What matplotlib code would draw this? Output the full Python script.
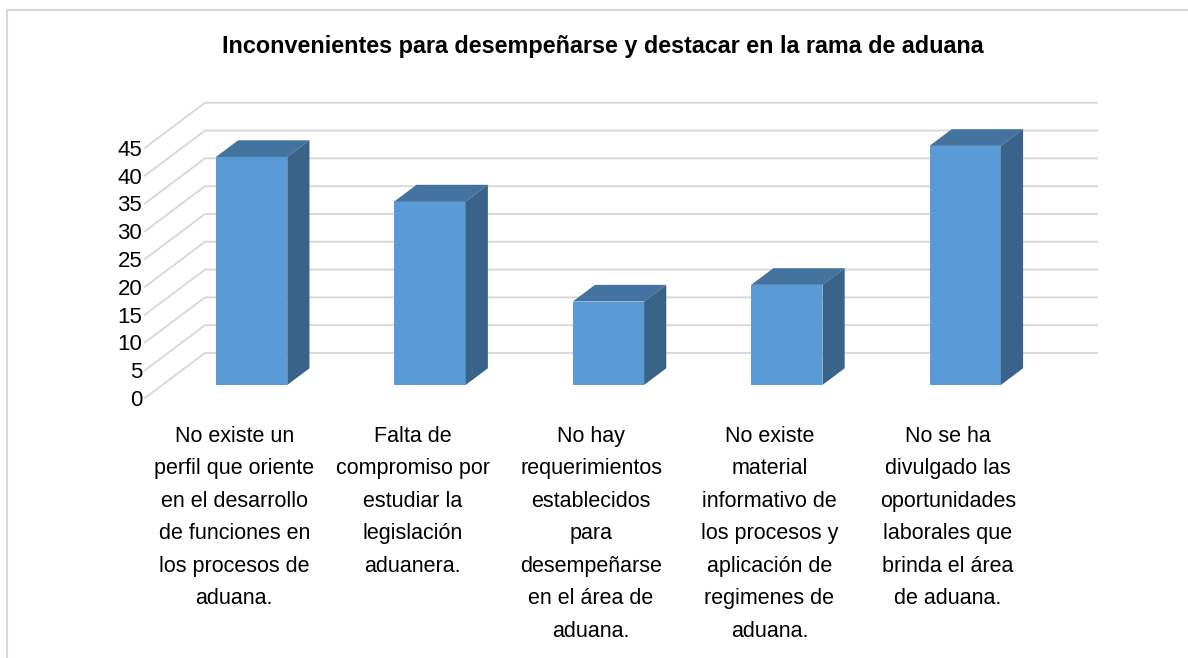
import matplotlib
matplotlib.use("Agg")
import matplotlib.pyplot as plt
from matplotlib.patches import Polygon, Rectangle

plt.rcParams['font.family'] = ['Liberation Sans', 'DejaVu Sans']

# data
title = "Inconvenientes para desempeñarse y destacar en la rama de aduana"
categories = [
    "No existe un\nperfil que oriente\nen el desarrollo\nde funciones en\nlos procesos de\naduana.",
    "Falta de\ncompromiso por\nestudiar la\nlegislación\naduanera.",
    "No hay\nrequerimientos\nestablecidos\npara\ndesempeñarse\nen el área de\naduana.",
    "No existe\nmaterial\ninformativo de\nlos procesos y\naplicación de\nregimenes de\naduana.",
    "No se ha\ndivulgado las\noportunidades\nlaborales que\nbrinda el área\nde aduana.",
]
values = [41, 33, 15, 18, 43]
yticks = list(range(0, 50, 5))

# colours
front_col = '#5b9bd5'
top_col = '#44739f'
side_col = '#3a6389'
grid_col = '#d9d9d9'

fig = plt.figure(figsize=(11.88, 6.58), dpi=100)
ax = fig.add_axes([145 / 1188, 260 / 658, 892 / 1188, 278 / 658])
ax.set_xlim(-0.5, 4.5)
ax.set_ylim(0, 50)

# oblique depth vector (full depth of the floor), in data units
DX = 60 / 178.4
DY = 8.1
f1, f2 = 0.29, 0.66   # bar front / back depth

# side wall + back wall gridlines
for v in yticks:
    ax.plot([-0.5, -0.5 + DX, 4.5 + DX], [v, v + DY, v + DY],
            color=grid_col, lw=1.4, zorder=1, clip_on=False)

# 3d columns
w = 0.4
ddx = (f2 - f1) * DX
ddy = (f2 - f1) * DY
for i, h in enumerate(values):
    xc = i + f1 * DX
    y0 = f1 * DY
    ax.bar(xc, h, width=w, bottom=y0, color=front_col, zorder=3, clip_on=False)
    x0, x1, y1 = xc - w / 2, xc + w / 2, y0 + h
    top = Polygon([(x0, y1), (x1, y1), (x1 + ddx, y1 + ddy), (x0 + ddx, y1 + ddy)],
                  closed=True, facecolor=top_col, edgecolor='none', zorder=3, clip_on=False)
    side = Polygon([(x1, y0), (x1 + ddx, y0 + ddy), (x1 + ddx, y1 + ddy), (x1, y1)],
                   closed=True, facecolor=side_col, edgecolor='none', zorder=3, clip_on=False)
    ax.add_patch(top)
    ax.add_patch(side)

# axes text
ax.set_yticks(yticks)
ax.set_yticklabels([str(t) for t in yticks], fontsize=16)
ax.set_xticks(range(len(categories)))
ax.set_xticklabels(categories, fontsize=15.5, linespacing=1.72)
ax.tick_params(axis='both', length=0)
ax.tick_params(axis='y', pad=2)
ax.tick_params(axis='x', pad=20)
for s in ax.spines.values():
    s.set_visible(False)

fig.text(603 / 1188, 1 - 47 / 658, title, ha='center', va='center',
         fontsize=16.8, fontweight='bold')

# chart border
fig.patches.append(Rectangle((7 / 1188, -0.01), 1.0, 1 - 10 / 658 + 0.01,
                             transform=fig.transFigure, fill=False,
                             edgecolor=grid_col, lw=1.5))

fig.savefig("out.png", dpi=100)
